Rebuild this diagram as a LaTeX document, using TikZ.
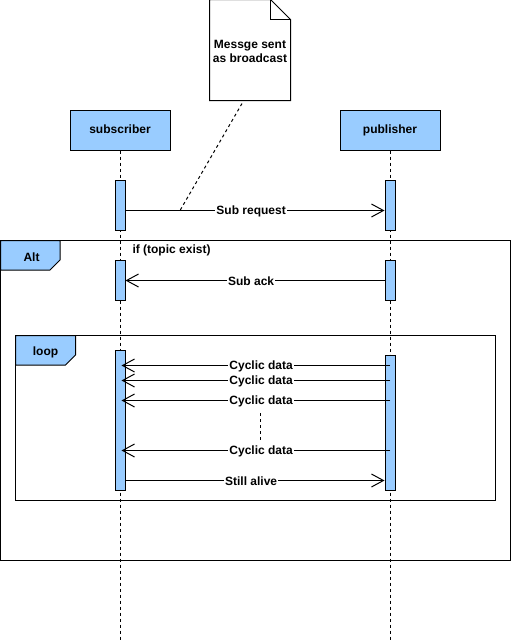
\documentclass[tikz,border=0pt]{standalone}
\usepackage{fontspec}
\setmainfont{Liberation Sans}
\usetikzlibrary{arrows.meta}
\definecolor{actblue}{HTML}{99CCFF}
\begin{document}
\begin{tikzpicture}[x=1pt,y=-1pt,line width=1pt,every node/.style={font=\bfseries\fontsize{12}{14}\selectfont}]
			\tikzstyle{obj}=[draw,fill=actblue,minimum width=100pt,minimum height=40pt,text depth=0pt,text height=7pt]
			\tikzstyle{act}=[draw,fill=actblue,minimum width=10pt,inner sep=0pt]
			\tikzstyle{life}=[dash pattern=on 3pt off 3pt]
			\tikzstyle{msg}=[-{Straight Barb[length=12pt,width=13pt]}]
			\tikzstyle{lbl}=[fill=white,inner sep=1pt,yshift=-1pt]
			\useasboundingbox (0,0) rectangle (511,641);
			
			\node[minimum width=80pt,minimum height=100pt,inner sep=0pt](note)at(250,50){};
			\draw[fill=white] (note.north west) -- ([xshift=-20pt]note.north east) -- ([yshift=-20pt]note.north east)
			-- (note.south east) -- (note.south west) -- cycle;
			\draw ([xshift=-20pt]note.north east) -- ([xshift=-20pt,yshift=-20pt]note.north east) -- ([yshift=-20pt]note.north east);
			\node[align=center](notetext)at(250,51){Messge sent\\as broadcast};
			
			\node[obj](sub)at(120,130){subscriber};
			\node[obj](pub)at(390,130){publisher};
			\coordinate (subend) at (120,641);
			\coordinate (pubend) at (390,641);
			
			\draw[fill=none] (0.5,240.5) rectangle (510,560);
			\draw[fill=actblue] (0.5,240.5) -- (60,240.5) -- (60,260) -- (50,270) -- (0.5,270) -- cycle;
			\node[](alt)at(31.5,257){Alt};
			\node[anchor=west,inner sep=0pt](cond)at(132,250.5){if (topic exist)};
			
			\draw[fill=none] (15.5,335.5) rectangle (495.5,500);
			\draw[fill=actblue] (15.5,335.5) -- (75.5,335.5) -- (75.5,355) -- (65.5,365) -- (15.5,365) -- cycle;
			\node[](loop)at(45.5,352.5){loop};
			
			\draw[life] (sub.south) -- (subend);
			\draw[life] (pub.south) -- (pubend);
			
			\node[act,minimum height=50pt](sa1)at(120,205){};
			\node[act,minimum height=50pt](pa1)at(390,205){};
			\node[act,minimum height=40pt](sa2)at(120,280){};
			\node[act,minimum height=40pt](pa2)at(390,280){};
			\node[act,minimum height=140pt](sa3)at(120,420){};
			\node[act,minimum height=135pt](pa3)at(390,422.5){};
			
			\coordinate (m1) at (0,210.5);
			\coordinate (m2) at (0,280.5);
			\coordinate (m3) at (0,480.5);
			\coordinate (bc) at (180,210.5);
			\draw[life] ([xshift=-8pt,yshift=-3pt]note.south) -- (bc);
			
			\draw[msg] (sa1.east |- m1) -- node[lbl,pos=0.485]{Sub request} (pa1.west |- m1);
			\draw[msg] (pa2.west |- m2) -- node[lbl,pos=0.515]{Sub ack} (sa2.east |- m2);
			\foreach \i/\y in {1/365.5,2/380.5,3/400.5,4/450.5}{
				\coordinate (c\i) at (0,\y);
				\draw[msg] (pa3.center |- c\i) -- node[lbl,pos=0.48]{Cyclic data} ([xshift=1.5pt]sa3.center |- c\i);
			};
			\draw[msg] (sa3.east |- m3) -- node[lbl,pos=0.485]{Still alive} (pa3.west |- m3);
			
			\coordinate (g1) at (260.5,413);
			\coordinate (g2) at (260.5,440);
			\draw[life] (g1) -- (g2);
\end{tikzpicture}
\end{document}
